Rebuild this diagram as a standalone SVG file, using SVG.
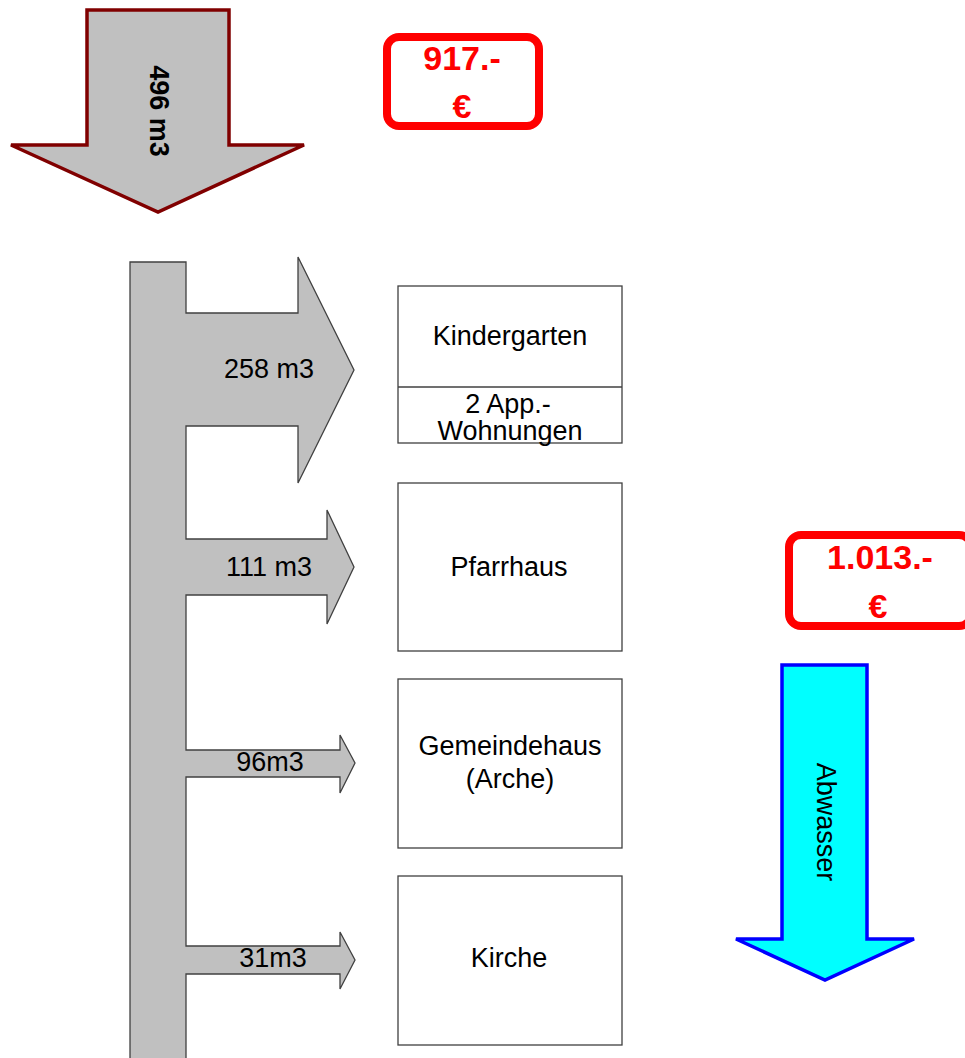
<svg xmlns="http://www.w3.org/2000/svg" width="965" height="1058" viewBox="0 0 965 1058">
<style>
.t{font-family:"Liberation Sans",Arial,sans-serif;font-size:27px;fill:#000;text-anchor:middle}
.b{font-weight:bold}
.r{font-family:"Liberation Sans",Arial,sans-serif;font-size:34px;font-weight:bold;fill:#ff0000;text-anchor:middle}
.box{fill:#fff;stroke:#404040;stroke-width:1.3}
.price{fill:#fff;stroke:#ff0000;stroke-width:8}
</style>
<rect width="965" height="1058" fill="#fff"/>
<g id="connectors">
<g id="inflow">
<polygon points="87,10 229,10 229,145 304,145 158,212 11,145 87,145" fill="#c0c0c0" stroke="#800000" stroke-width="3.5"/>
<text class="t b" transform="translate(150,111) rotate(90)">496 m3</text>
</g>
<g id="distribution">
<polygon points="130,262 186,262 186,313 298,313 298,257 354,370 298,483 298,426 186,426 186,539 327,539 327,510 354,567 327,624 327,595 186,595 186,750 340,750 340,735 355,763 340,793 340,777 186,777 186,946 340,946 340,932 355,960 340,989 340,974 186,974 186,1062 130,1062" fill="#c0c0c0" stroke="#404040" stroke-width="1.3"/>
<text class="t" x="269" y="378">258 m3</text>
<text class="t" x="269" y="576">111 m3</text>
<text class="t" x="270" y="771">96m3</text>
<text class="t" x="273" y="967">31m3</text>
</g>
<g id="abwasser">
<polygon points="782,665 867,665 867,939 914,939 825,980 736,939 782,939" fill="#00ffff" stroke="#0000ff" stroke-width="3.5"/>
<text class="t" transform="translate(817,822) rotate(90)">Abwasser</text>
</g>
</g>
<g id="price-in">
<rect class="price" x="387" y="37" width="152" height="89" rx="12"/>
<text class="r" x="462" y="70">917.-</text>
<text class="r" x="462" y="118">€</text>
</g>
<g id="price-out">
<rect class="price" x="789" y="535" width="182" height="91" rx="12"/>
<text class="r" x="880" y="569">1.013.-</text>
<text class="r" x="878" y="618">€</text>
</g>
<g id="kindergarten">
<rect class="box" x="398" y="286" width="224" height="157"/>
<line x1="398" y1="387" x2="622" y2="387" stroke="#404040" stroke-width="1.3"/>
<text class="t" x="510" y="345">Kindergarten</text>
<text class="t" x="508" y="413">2 App.-</text>
<text class="t" x="510" y="440">Wohnungen</text>
</g>
<g id="pfarrhaus">
<rect class="box" x="398" y="483" width="224" height="168"/>
<text class="t" x="509" y="576">Pfarrhaus</text>
</g>
<g id="gemeindehaus">
<rect class="box" x="398" y="679" width="224" height="169"/>
<text class="t" x="510" y="755">Gemeindehaus</text>
<text class="t" x="510" y="788">(Arche)</text>
</g>
<g id="kirche">
<rect class="box" x="398" y="876" width="224" height="169"/>
<text class="t" x="509" y="967">Kirche</text>
</g>
</svg>
